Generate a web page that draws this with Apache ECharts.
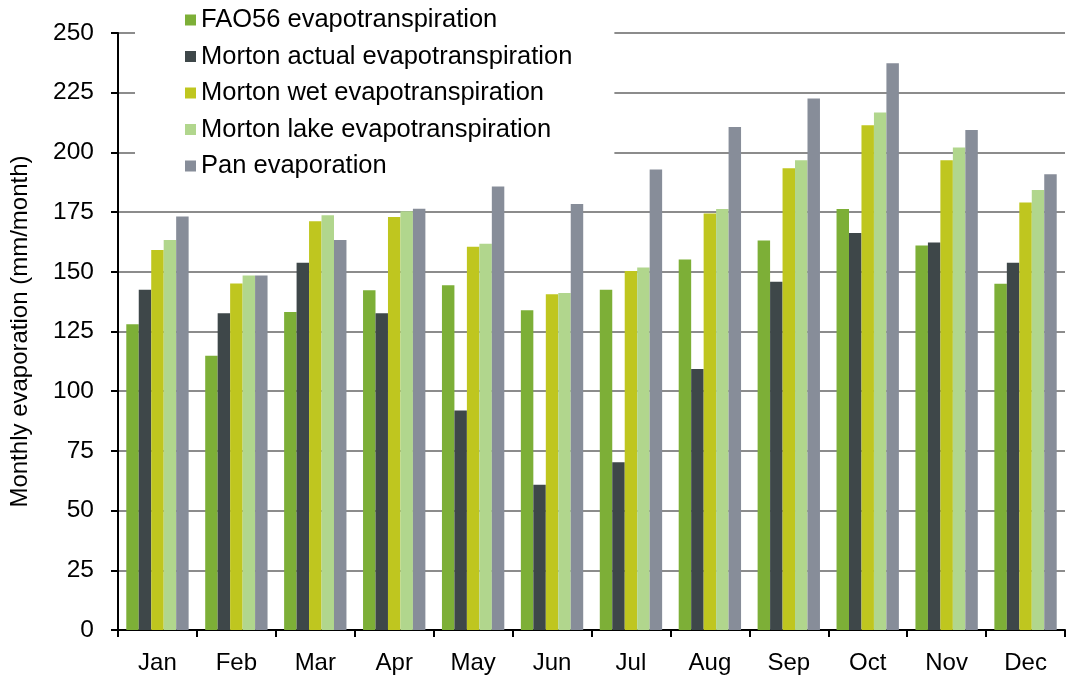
<!DOCTYPE html>
<html>
<head>
<meta charset="utf-8">
<script src="https://cdn.jsdelivr.net/npm/echarts@6/dist/echarts.min.js"></script>
<style>
  html, body { margin: 0; padding: 0; background: #fff; }
  #chart { width: 1067px; height: 677px; }
</style>
</head>
<body>
<div id="chart"></div>
<script>
// month categories
const months = ["Jan", "Feb", "Mar", "Apr", "May", "Jun", "Jul", "Aug", "Sep", "Oct", "Nov", "Dec"];

// monthly evaporation, mm/month
const fao56 = [128, 114.8, 133.2, 142.3, 144.4, 133.9, 142.5, 155.1, 163.1, 176.3, 161, 145];
const mortonActual = [142.5, 132.6, 153.8, 132.6, 91.9, 60.8, 70.2, 109.3, 145.8, 166.3, 162.3, 153.8];
const mortonWet = [159.1, 145.1, 171.2, 173, 160.5, 140.6, 150.3, 174.4, 193.4, 211.4, 196.7, 179];
const mortonLake = [163.3, 148.5, 173.7, 175.4, 161.7, 141.1, 151.8, 176.3, 196.7, 216.7, 202, 184.3];
const pan = [173.2, 148.5, 163.3, 176.4, 185.7, 178.4, 192.8, 210.6, 222.6, 237.3, 209.4, 190.8];

const seriesNames = [
  "FAO56 evapotranspiration",
  "Morton actual evapotranspiration",
  "Morton wet evapotranspiration",
  "Morton lake evapotranspiration",
  "Pan evaporation",
];
const seriesData = [fao56, mortonActual, mortonWet, mortonLake, pan];
const colors = ["#7daf37", "#3e4749", "#bfc61f", "#b1d68d", "#878d99"];

const font = "Liberation Sans, Arial, sans-serif";

const chart = echarts.init(document.getElementById("chart"));
chart.setOption({
  animation: false,
  color: colors,
  textStyle: { fontFamily: font },
  grid: {
    left: 117,
    right: 2,
    top: 33,
    bottom: 47,
    containLabel: false,
  },
  legend: {
    orient: "vertical",
    left: 135,
    top: 0,
    padding: [7, 42, 6, 50],
    backgroundColor: "#fff",
    itemWidth: 11,
    itemHeight: 11,
    itemGap: 10.5,
    icon: "rect",
    data: seriesNames,
    textStyle: {
      fontFamily: font,
      fontSize: 25.5,
      lineHeight: 26,
      color: "#000",
    },
    z: 5,
  },
  xAxis: {
    type: "category",
    data: months,
    axisLine: { lineStyle: { color: "#000", width: 2 } },
    axisTick: { show: true, length: 7, lineStyle: { color: "#000", width: 2 } },
    axisLabel: {
      color: "#000",
      fontSize: 24,
      fontFamily: font,
      margin: 21,
    },
  },
  yAxis: {
    type: "value",
    min: 0,
    max: 250,
    interval: 25,
    name: "Monthly evaporation (mm/month)",
    nameLocation: "middle",
    nameRotate: 90,
    nameGap: 86,
    nameTextStyle: { color: "#000", fontSize: 24, fontFamily: font },
    axisLine: { show: true, lineStyle: { color: "#000", width: 2 } },
    axisTick: { show: true, length: 7, lineStyle: { color: "#000", width: 2 } },
    axisLabel: {
      color: "#000",
      fontSize: 24.5,
      fontFamily: font,
      margin: 24,
    },
    splitLine: { lineStyle: { color: "#8c8c8c", width: 2 } },
  },
  series: seriesNames.map((name, i) => ({
    name: name,
    type: "bar",
    data: seriesData[i],
    barGap: "0%",
    barCategoryGap: "21%",
  })),
});
</script>
</body>
</html>
